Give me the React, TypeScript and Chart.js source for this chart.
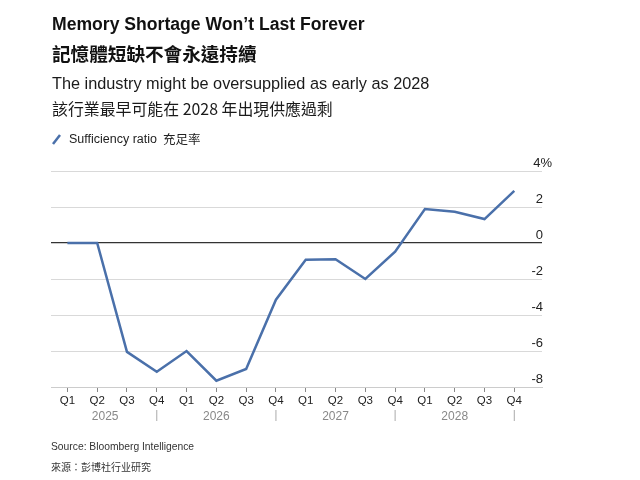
import { useEffect, useRef } from 'react';
import { Chart } from 'chart.js/auto';

const quarters = ['Q1', 'Q2', 'Q3', 'Q4', 'Q1', 'Q2', 'Q3', 'Q4', 'Q1', 'Q2', 'Q3', 'Q4', 'Q1', 'Q2', 'Q3', 'Q4'];
const years = ['2025', '2026', '2027', '2028'];
const sufficiency = [0, 0, -6.05, -7.15, -6.0, -7.65, -7.0, -3.15, -0.93, -0.9, -2.0, -0.48, 1.89, 1.74, 1.33, 2.9];
const yTicks = [4, 2, 0, -2, -4, -6, -8];

const LINE = '#4a70aa';
const SANS = '"Liberation Sans", Arial, sans-serif';
const CJK = '"Noto Sans CJK TC", "Liberation Sans", sans-serif';

const axisLabels = {
	id: 'axisLabels',
	afterDraw(chart: any) {
		const { ctx, scales } = chart;
		const x = scales.x;
		const y = scales.y;
		ctx.save();
		// y labels, above their grid lines, on the right
		ctx.font = `13px ${SANS}`;
		ctx.fillStyle = '#222';
		ctx.textAlign = 'right';
		ctx.textBaseline = 'alphabetic';
		yTicks.forEach((v) => {
			const py = y.getPixelForValue(v) - 4.5;
			if (v === 4) ctx.fillText('4%', 552, py);
			else ctx.fillText(String(v), 543, py);
		});
		// quarter labels
		ctx.textAlign = 'center';
		ctx.textBaseline = 'middle';
		ctx.font = `11.5px ${SANS}`;
		ctx.fillStyle = '#222';
		const base = y.bottom;
		quarters.forEach((q, i) => {
			ctx.fillText(q, x.getPixelForValue(i), base + 14);
		});
		// year labels and separators
		ctx.fillStyle = '#888';
		ctx.font = `12px ${SANS}`;
		years.forEach((yr, k) => {
			const cx = x.getPixelForValue(k * 4 + 1) + (k === 0 ? 8 : 0);
			ctx.fillText(yr, cx, base + 29.5);
			const sx = x.getPixelForValue(k * 4 + 3);
			ctx.strokeStyle = '#aaa';
			ctx.lineWidth = 1;
			ctx.beginPath();
			ctx.moveTo(sx, base + 23);
			ctx.lineTo(sx, base + 34);
			ctx.stroke();
		});
		ctx.restore();
	}
};

function LineChart() {
	const ref = useRef<HTMLCanvasElement>(null);

	useEffect(() => {
		if (!ref.current) return;
		const chart = new Chart(ref.current.getContext('2d')!, {
			type: 'line',
			data: {
				datasets: [
					{
						data: sufficiency.map((v, i) => ({ x: i, y: v })),
						borderColor: LINE,
						borderWidth: 2.5,
						pointRadius: 0,
						tension: 0
					}
				]
			},
			options: {
				animation: false,
				responsive: false,
				devicePixelRatio: 1,
				layout: { padding: { left: 51, right: 98, top: 171, bottom: 88 } },
				plugins: { legend: { display: false }, tooltip: { enabled: false }, title: { display: false } },
				scales: {
					x: {
						type: 'linear',
						min: -0.55,
						max: 15.93,
						afterBuildTicks: (scale: any) => {
							scale.ticks = quarters.map((_, i) => ({ value: i }));
						},
						grid: { drawOnChartArea: false, drawTicks: true, tickLength: 5, color: '#888' },
						border: { display: true, color: '#ccc' },
						ticks: { display: false }
					},
					y: {
						position: 'right',
						min: -8,
						max: 4,
						afterBuildTicks: (scale: any) => {
							scale.ticks = yTicks.map((v) => ({ value: v }));
						},
						grid: {
							drawTicks: false,
							color: (c: any) => (c.tick && c.tick.value === 0 ? '#333' : '#d9d9d9'),
							lineWidth: (c: any) => (c.tick && c.tick.value === 0 ? 1.3 : 1)
						},
						border: { display: false },
						ticks: { display: false }
					}
				}
			},
			plugins: [axisLabels]
		});
		return () => chart.destroy();
	}, []);

	return <canvas ref={ref} width={640} height={480} style={{ position: 'absolute', left: 0, top: 0 }} />;
}

export default function App() {
	const abs = (top: number, extra: any = {}) => ({ position: 'absolute' as const, left: 52, top, whiteSpace: 'nowrap' as const, color: '#111', ...extra });
	return (
		<div style={{ position: 'fixed', left: 0, top: 0, width: 640, height: 480, background: '#fff', overflow: 'hidden' }}>
			<LineChart />
			<div style={abs(14, { fontFamily: SANS, fontWeight: 700, fontSize: 17.6 })}>Memory Shortage Won’t Last Forever</div>
			<div style={abs(39, { fontFamily: CJK, fontWeight: 700, fontSize: 18.6 })}>記憶體短缺不會永遠持續</div>
			<div style={abs(74, { fontFamily: SANS, fontSize: 16.3, color: '#1a1a1a' })}>The industry might be oversupplied as early as 2028</div>
			<div style={abs(97, { fontFamily: CJK, fontSize: 15.9, color: '#1a1a1a' })}>該行業最早可能在 2028 年出現供應過剩</div>
			<div style={abs(129, { fontFamily: SANS, fontSize: 12.5, color: '#222', display: 'flex', alignItems: 'center' })}>
				<svg width={10} height={12} style={{ marginRight: 7 }}>
					<line x1={1} y1={11} x2={8} y2={2} stroke={LINE} strokeWidth={2.5} />
				</svg>
				<span>Sufficiency ratio</span>
				<span style={{ fontFamily: CJK, marginLeft: 6 }}>充足率</span>
			</div>
			<div style={abs(441, { left: 51, fontFamily: SANS, fontSize: 10.3, color: '#333' })}>Source: Bloomberg Intelligence</div>
			<div style={abs(459, { left: 51, fontFamily: CJK, fontSize: 10, color: '#333' })}>來源：彭博社行业研究</div>
		</div>
	);
}
